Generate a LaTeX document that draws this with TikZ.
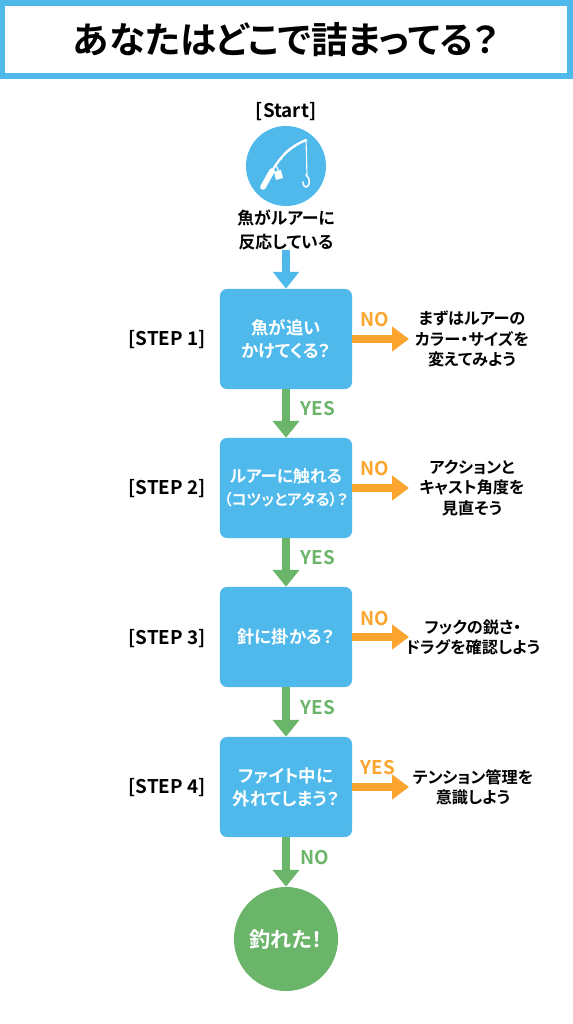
\documentclass[tikz,border=0pt]{standalone}
\usepackage{fontspec}
\setmainfont{Noto Sans CJK JP}[BoldFont={* Bold},RawFeature={+palt}]
\usetikzlibrary{arrows.meta}
\definecolor{skyblue}{HTML}{4FB9EC}
\definecolor{leafgreen}{HTML}{6BB56B}
\definecolor{amber}{HTML}{FBA52F}
\begin{document}
\begin{tikzpicture}[x=0.025cm,y=-0.025cm, every node/.style={font=\bfseries\fontsize{11.5}{14.4}\selectfont,inner sep=0pt},
  question/.style={fill=skyblue,rounded corners=5pt,minimum width=3.3cm,minimum height=2.5cm,align=center,text=white,font=\bfseries\fontsize{12.4}{16.5}\selectfont},
  steplabel/.style={font=\bfseries\fontsize{13.4}{16}\selectfont},
  advice/.style={align=center},
  yeslabel/.style={font=\bfseries\fontsize{13.4}{16}\selectfont,text=leafgreen},
  nolabel/.style={font=\bfseries\fontsize{13.4}{16}\selectfont,text=amber},
  bluearrow/.style={-{Triangle[length=12pt,width=18pt]},line width=5.5pt,skyblue},
  greenarrow/.style={-{Triangle[length=12pt,width=18.5pt]},line width=6pt,leafgreen},
  orangearrow/.style={-{Triangle[length=12pt,width=17pt]},line width=5pt,amber}]
  \useasboundingbox (0,0) rectangle (572,1024);
  % title
  \node[draw=skyblue,line width=4.5pt,minimum width=14.2cm,minimum height=1.82cm,font=\bfseries\fontsize{26}{30}\selectfont] (title) at (286,39.5) {\raisebox{-2pt}{あなたはどこで詰まってる？}};
  % start
  \node[steplabel] (start) at (286,112) {[Start]};
  \node[circle,fill=skyblue,minimum size=2cm] (bait) at (286,166) {};
  \node[advice,font=\bfseries\fontsize{12}{17}\selectfont] (bite) at (286,230) {魚がルアーに\\反応している};
  % rod icon
  \draw[white,line width=4pt,line cap=round] (263,187) -- (272,171);
  \draw[white,line width=1.6pt,line cap=round] (272,171) .. controls (282,154) and (292,146) .. (306,140);
  \draw[white,line width=0.8pt] (281,160) .. controls (284,150) and (296,144) .. (306,140);
  \draw[white,line width=0.8pt] (306,140) -- (307,175);
  \draw[white,line width=1.1pt,line cap=round] (306,175) .. controls (311,178) and (310,187) .. (306,187) .. controls (304,187) and (303,185) .. (303,182);
  \fill[white] (274,172) -- (281,170) -- (283,178) -- (276,180) -- cycle;
  \draw[white,line width=0.8pt] (276,165) -- (279,172);
  % questions
  \node[question] (q1) at (286,339) {魚が追い\\かけてくる？};
  \node[question,font=\bfseries\fontsize{11.9}{16.5}\selectfont] (q2) at (286,488) {ルアーに触れる\\{\fontsize{10.9}{16.5}\selectfont （コツッとアタる）？}};
  \node[question] (q3) at (286,637) {針に掛かる？};
  \node[question] (q4) at (286,787) {ファイト中に\\外れてしまう？};
  \node[circle,fill=leafgreen,minimum size=2.6cm,text=white,font=\bfseries\fontsize{15}{17}\selectfont] (caught) at (286,939) {釣れた！};
  % step labels
  \node[steplabel] (s1) at (167,340) {[STEP 1]};
  \node[steplabel] (s2) at (167,489) {[STEP 2]};
  \node[steplabel] (s3) at (167,639) {[STEP 3]};
  \node[steplabel] (s4) at (167,788) {[STEP 4]};
  % advice
  \node[advice] (a1) at (472,339) {まずはルアーの\\カラー・サイズを\\変えてみよう};
  \node[advice] (a2) at (472,488) {アクションと\\キャスト角度を\\見直そう};
  \node[advice] (a3) at (473,637) {フックの鋭さ・\\ドラグを確認しよう};
  \node[advice] (a4) at (473,787) {テンション管理を\\意識しよう};
  \coordinate (t1) at (409,339);
  \coordinate (t2) at (409,488);
  \coordinate (t3) at (409,637);
  \coordinate (t4) at (409,787);
  % connectors
  \draw[bluearrow] (bite) -- (q1);
  \draw[greenarrow] (q1) -- (q2);
  \draw[greenarrow] (q2) -- (q3);
  \draw[greenarrow] (q3) -- (q4);
  \draw[greenarrow] (q4) -- (caught);
  \draw[orangearrow] (q1) -- (t1);
  \draw[orangearrow] (q2) -- (t2);
  \draw[orangearrow] (q3) -- (t3);
  \draw[orangearrow] (q4) -- (t4);
  % connector labels
  \node[yeslabel] (y1) at (318,409) {YES};
  \node[yeslabel] (y2) at (318,558) {YES};
  \node[yeslabel] (y3) at (318,708) {YES};
  \node[yeslabel] (n4) at (315,858) {NO};
  \node[nolabel] (n1) at (375,320) {NO};
  \node[nolabel] (n2) at (375,469) {NO};
  \node[nolabel] (n3) at (375,619) {NO};
  \node[nolabel] (y4) at (378,768) {YES};
\end{tikzpicture}
\end{document}
